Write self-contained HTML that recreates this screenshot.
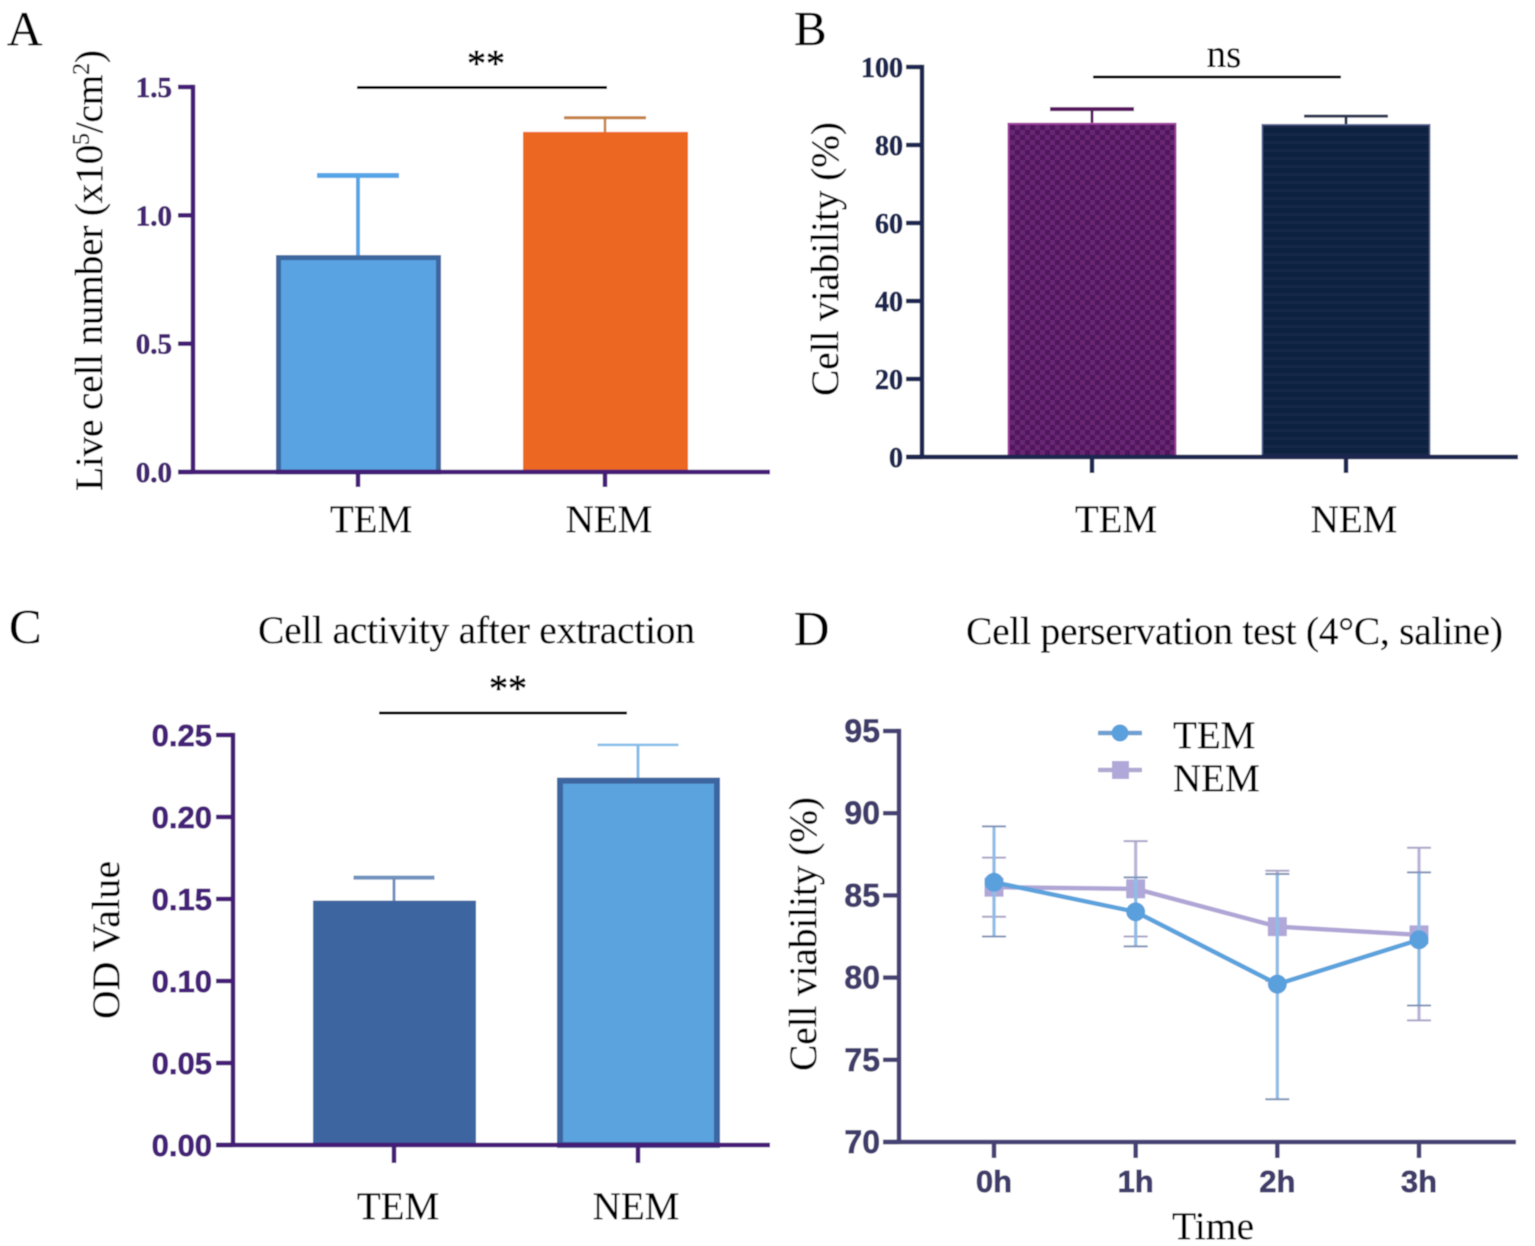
<!DOCTYPE html>
<html lang="en">
<head>
<meta charset="utf-8">
<title>Cell number, viability and activity: TEM vs NEM</title>
<style>
html,body{margin:0;padding:0;background:#fff;}
svg{display:block;}
text{font-family:"Liberation Serif",serif;fill:#000;stroke:#000;stroke-width:0.25px;}
.big{font-size:39px;}
.letter{font-size:49px;}
.axt{font-size:39.5px;}
.stars{font-size:38px;stroke-width:0.7px;}
.tick{stroke-width:0.7px;}
</style>
</head>
<body>
<svg id="figure" xmlns="http://www.w3.org/2000/svg" width="1535" height="1246" viewBox="0 0 1535 1246">
<defs>
<filter id="soft" x="0" y="0" width="100%" height="100%" filterUnits="objectBoundingBox"><feGaussianBlur stdDeviation="0.6"/></filter>
<pattern id="checker" width="10" height="10" patternUnits="userSpaceOnUse">
<rect width="10" height="10" fill="#4f145c"/>
<rect width="5" height="5" fill="#692875"/>
<rect x="5" y="5" width="5" height="5" fill="#692875"/>
</pattern>
<pattern id="stripes" width="10" height="8" patternUnits="userSpaceOnUse">
<rect width="10" height="8" fill="#10213f"/>
<rect y="5" width="10" height="3" fill="#142647"/>
</pattern>
</defs>
<g id="root" filter="url(#soft)">
<rect width="1535" height="1246" fill="#fff"/>

<text class="letter" x="7" y="45">A</text>
<text class="letter" x="794" y="45">B</text>
<text class="letter" x="9" y="643">C</text>
<text class="letter" x="794" y="645">D</text>

<text class="axt" transform="translate(102,491) rotate(-90)" textLength="441" lengthAdjust="spacing">Live cell number (x10<tspan font-size="24" dy="-13">5</tspan><tspan dy="13">/cm</tspan><tspan font-size="24" dy="-13">2</tspan><tspan dy="13">)</tspan></text>
<text class="axt" transform="translate(838,396) rotate(-90)" textLength="274">Cell viability (%)</text>
<text class="axt" transform="translate(119,1019) rotate(-90)" textLength="158">OD Value</text>
<text class="axt" transform="translate(816,1071) rotate(-90)" textLength="274">Cell viability (%)</text>

<text class="axt" x="258" y="643" textLength="437">Cell activity after extraction</text>
<text class="axt" x="966" y="644" textLength="537">Cell perservation test (4°C, saline)</text>

<text class="big stars" x="486" y="76" text-anchor="middle">**</text>
<text class="big" x="1224" y="67" text-anchor="middle">ns</text>
<text class="big stars" x="508" y="701" text-anchor="middle">**</text>
<line x1="357" x2="607" y1="87.5" y2="87.5" stroke="#000" stroke-width="3"/>
<line x1="1093" x2="1341" y1="77" y2="77" stroke="#000" stroke-width="3"/>
<line x1="379" x2="627" y1="713" y2="713" stroke="#000" stroke-width="3"/>

<text class="big" x="371" y="532" text-anchor="middle">TEM</text>
<text class="big" x="609" y="532" text-anchor="middle">NEM</text>
<text class="big" x="1116" y="532" text-anchor="middle">TEM</text>
<text class="big" x="1354" y="532" text-anchor="middle">NEM</text>
<text class="big" x="398" y="1219" text-anchor="middle">TEM</text>
<text class="big" x="636" y="1219" text-anchor="middle">NEM</text>
<text class="axt" x="1213" y="1239" text-anchor="middle">Time</text>

<g>
<line x1="1098" x2="1142" y1="733" y2="733" stroke="#6f9fd0" stroke-width="4.5"/>
<circle cx="1120" cy="733" r="8.5" fill="#5aa0dd"/>
<text class="big" x="1173" y="748">TEM</text>
<line x1="1098" x2="1142" y1="770" y2="770" stroke="#b0a9d2" stroke-width="4.5"/>
<rect x="1112" y="761" width="17" height="18" fill="#b0a8d8"/>
<text class="big" x="1173" y="791">NEM</text>
</g>
<g id="marks"></g>
</g>
</svg>
<script>
// Panel A
const aCategories = ["TEM", "NEM"];
const aValues = [0.845, 1.325];
const aErrorTops = [1.155, 1.38];
const aTicks = ["0.0", "0.5", "1.0", "1.5"];
// Panel B
const bCategories = ["TEM", "NEM"];
const bValues = [85.7, 85.4];
const bErrorTops = [89.2, 87.4];
const bTicks = ["0", "20", "40", "60", "80", "100"];
// Panel C
const cCategories = ["TEM", "NEM"];
const cValues = [0.149, 0.224];
const cErrorTops = [0.163, 0.244];
const cTicks = ["0.00", "0.05", "0.10", "0.15", "0.20", "0.25"];
// Panel D
const dCategories = ["0h", "1h", "2h", "3h"];
const dTicks = ["70", "75", "80", "85", "90", "95"];
const dTem = [85.8, 84.0, 79.6, 82.3];
const dTemUpper = [89.2, 86.1, 86.3, 86.4];
const dTemLower = [82.5, 81.9, 72.6, 78.3];
const dNem = [85.5, 85.4, 83.1, 82.6];
const dNemUpper = [87.3, 88.3, 86.5, 87.9];
const dNemLower = [83.7, 82.5, 79.8, 77.4];

const NS = "http://www.w3.org/2000/svg";
const marks = document.getElementById("marks");

function shape(tag, props, name, parent) {
  const el = document.createElementNS(NS, tag);
  for (const k in props) el.setAttribute(k, props[k]);
  
  
  (parent || marks).appendChild(el);
  return el;
}
function linScale(d0, d1, r0, r1) {
  return v => r0 + (v - d0) / (d1 - d0) * (r1 - r0);
}
function drawAxes(p) {
  const g = shape("g", {}, p.id + "-axes");
  const y = p.y;
  const yTop = y(parseFloat(p.ticks[p.ticks.length - 1]));
  const yBase = y(parseFloat(p.ticks[0]));
  shape("line", {x1: p.axisX, x2: p.axisX, y1: yTop - p.axisW / 2, y2: yBase, stroke: p.axisColor, "stroke-width": p.axisW}, p.id + "-y-axis", g);
  shape("line", {x1: p.axisX - p.tickLen, x2: p.xEnd, y1: yBase, y2: yBase, stroke: p.axisColor, "stroke-width": p.axisW}, p.id + "-x-axis", g);
  p.ticks.forEach(t => {
    const v = parseFloat(t);
    shape("line", {x1: p.axisX - p.tickLen, x2: p.axisX, y1: y(v), y2: y(v), stroke: p.axisColor, "stroke-width": p.axisW}, p.id + "-y-tick-" + t, g);
    const lab = shape("text", {"class": "tick", x: p.axisX - p.tickLen - p.labelGap, y: y(v) + p.labelDy, "text-anchor": "end", "font-size": p.tickFont, "font-weight": "bold", style: "font-family:" + p.tickFamily + ";fill:" + p.tickColor + ";stroke:" + p.tickColor}, p.id + "-y-label-" + t, g);
    lab.textContent = t;
  });
  p.cats.forEach((c, i) => {
    const x = p.x(i);
    shape("line", {x1: x, x2: x, y1: yBase, y2: yBase + p.xTick, stroke: p.axisColor, "stroke-width": p.axisW}, p.id + "-x-tick-" + c, g);
  });
}
function drawBars(p) {
  const base = p.y(parseFloat(p.ticks[0]));
  p.cats.forEach((c, i) => {
    const x = p.x(i) + p.barOffset;
    const top = p.y(p.values[i]);
    const cx = p.x(i);
    const st = p.styles[i];
    const errTop = p.y(p.errs[i]);
    shape("line", {x1: cx, x2: cx, y1: top, y2: errTop, stroke: st.err, "stroke-width": st.errW}, p.id + "-error-stem-" + c);
    shape("line", {x1: cx - p.capW / 2, x2: cx + p.capW / 2, y1: errTop, y2: errTop, stroke: st.err, "stroke-width": st.capW}, p.id + "-error-cap-" + c);
    const sw = st.strokeW;
    shape("rect", {x: x - p.barW / 2 + sw / 2, y: top + sw / 2, width: p.barW - sw, height: base - top - sw / 2, fill: st.fill, stroke: st.stroke, "stroke-width": sw}, p.id + "-bar-" + c);
  });
}
function drawSeries(p, s) {
  const g = shape("g", {}, p.id + "-series-" + s.name);
  const y = p.y;
  p.cats.forEach((c, i) => {
    const x = p.x(i);
    shape("line", {x1: x, x2: x, y1: y(s.upper[i]), y2: y(s.lower[i]), stroke: s.errColor, "stroke-width": 3.2}, s.name + "-error-stem-" + c, g);
    [s.upper[i], s.lower[i]].forEach((v, j) => {
      shape("line", {x1: x - 12, x2: x + 12, y1: y(v), y2: y(v), stroke: s.capColor, "stroke-width": 2}, s.name + (j ? "-error-low-" : "-error-high-") + c, g);
    });
  });
  const pts = s.values.map((v, i) => p.x(i) + "," + y(v)).join(" ");
  shape("polyline", {points: pts, fill: "none", stroke: s.line, "stroke-width": 4.5}, s.name + "-line", g);
  s.values.forEach((v, i) => {
    if (s.marker === "circle") {
      shape("circle", {cx: p.x(i), cy: y(v), r: 9.5, fill: s.fill}, s.name + "-point-" + p.cats[i], g);
    } else {
      shape("rect", {x: p.x(i) - 9.5, y: y(v) - 9.5, width: 19, height: 19, fill: s.fill}, s.name + "-point-" + p.cats[i], g);
    }
  });
}

const serifStack = '"Liberation Serif",serif';
const sansStack = '"Liberation Sans",sans-serif';

const panelA = {id: "panel-a", cats: aCategories, values: aValues, errs: aErrorTops, ticks: aTicks,
  y: linScale(0, 1.5, 472, 87), x: linScale(0, 1, 358, 605), axisX: 193, xEnd: 770, tickLen: 15, labelGap: 6, labelDy: 10,
  axisColor: "#451a76", axisW: 4.5, tickFont: 29, tickFamily: serifStack, tickColor: "#452572", xTick: 15,
  barW: 165, barOffset: 0.5, capW: 82,
  styles: [
    {fill: "#5aa3e2", stroke: "#3e689f", strokeW: 5, err: "#56a5e6", errW: 4, capW: 5},
    {fill: "#ec6824", stroke: "#ec6824", strokeW: 1, err: "#c47f3e", errW: 2.5, capW: 3}
  ]};
const panelB = {id: "panel-b", cats: bCategories, values: bValues, errs: bErrorTops, ticks: bTicks,
  y: linScale(0, 100, 457, 67), x: linScale(0, 1, 1092, 1346), axisX: 922, xEnd: 1518, tickLen: 16, labelGap: 3, labelDy: 10,
  axisColor: "#1b2850", axisW: 4.5, tickFont: 28, tickFamily: serifStack, tickColor: "#1b2850", xTick: 16,
  barW: 169, barOffset: 0, capW: 84,
  styles: [
    {fill: "url(#checker)", stroke: "#a0409f", strokeW: 2, err: "#5a1860", errW: 3, capW: 4},
    {fill: "url(#stripes)", stroke: "#5a6a98", strokeW: 1.5, err: "#2b3450", errW: 3, capW: 3}
  ]};
const panelC = {id: "panel-c", cats: cCategories, values: cValues, errs: cErrorTops, ticks: cTicks,
  y: linScale(0, 0.25, 1145, 735), x: linScale(0, 1, 394, 638), axisX: 233, xEnd: 770, tickLen: 17, labelGap: 4, labelDy: 11,
  axisColor: "#451a76", axisW: 4.5, tickFont: 31, tickFamily: sansStack, tickColor: "#452078", xTick: 18,
  barW: 163, barOffset: 0.5, capW: 81,
  styles: [
    {fill: "#3d659f", stroke: "#3d659f", strokeW: 1, err: "#6f92bd", errW: 3, capW: 4},
    {fill: "#5aa3de", stroke: "#3d659f", strokeW: 6, err: "#84bde9", errW: 3, capW: 2.5}
  ]};
const panelD = {id: "panel-d", cats: dCategories, ticks: dTicks,
  y: linScale(70, 95, 1142, 731), x: linScale(0, 3, 994, 1419), axisX: 899, xEnd: 1516, tickLen: 16, labelGap: 3, labelDy: 11,
  axisColor: "#454373", axisW: 4.5, tickFont: 32, tickFamily: sansStack, tickColor: "#3f3e6b", xTick: 16};

[panelA, panelB, panelC].forEach(p => { drawBars(p); drawAxes(p); });
drawAxes(panelD);

[...dCategories].forEach((c, i) => {
  const lab = shape("text", {"class": "tick", x: panelD.x(i), y: 1192, "text-anchor": "middle", "font-size": 31, "font-weight": "bold", style: "font-family:" + sansStack + ";fill:#3f3e6b;stroke:#3f3e6b"}, "panel-d-x-label-" + c);
  lab.textContent = c;
});

drawSeries(panelD, {name: "nem", values: dNem, upper: dNemUpper, lower: dNemLower, marker: "square",
  fill: "#b0a8d8", line: "#b0a6d6", errColor: "#b9b3d8", capColor: "#a9a6c8"});
drawSeries(panelD, {name: "tem", values: dTem, upper: dTemUpper, lower: dTemLower, marker: "circle",
  fill: "#5aa0dd", line: "#5ba2dc", errColor: "#8fbde6", capColor: "#8094b8"});
</script>
</body>
</html>
